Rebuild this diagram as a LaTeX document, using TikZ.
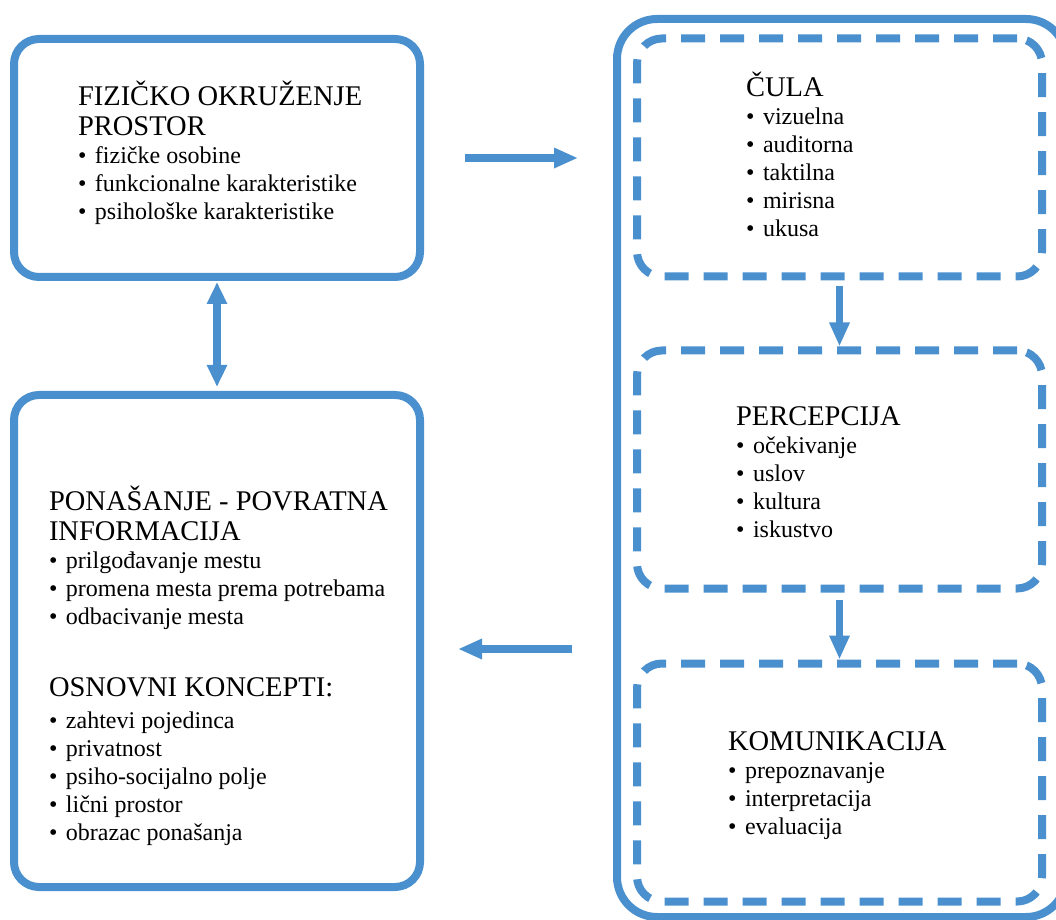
\documentclass[tikz,border=0pt]{standalone}
\usepackage{fontspec}
\setmainfont{Liberation Serif}
\usetikzlibrary{
arrows.meta,
positioning,
}
\definecolor{boxblue}{RGB}{74,144,206}
\tikzset{
outer sep=auto,
every node/.style={align=left},
frame/.style={rectangle, rounded corners=25pt, draw=boxblue, line width=8pt, minimum width=406pt},
dashframe/.style={frame, dash pattern=on 24pt off 15pt, minimum width=405pt, minimum height=238pt},
blocktext/.style={anchor=base west, inner sep=0pt, text width=380pt},
flow/.style={draw=boxblue, line width=7.5pt, -{Triangle[length=24pt, width=19pt]}},
}
\newcommand\headsize{\fontsize{28.5}{30}\selectfont\spaceskip=0.25em plus 0.1em\relax}
\newcommand\listsize{\fontsize{24}{28}\selectfont\spaceskip=0.25em plus 0.1em\relax}
\newcommand\bul{\makebox[17pt][l]{\textbullet}}

\begin{document}
\begin{tikzpicture}
\useasboundingbox (0,0) rectangle (1056pt,919pt);
\clip (0,0) rectangle (1056pt,919pt);
% left column
\node [frame, minimum height=238pt] (fiz) at (217pt,761pt) {};
\node [frame, minimum height=492pt, below=110pt of fiz] (pon) {};
% right column
\node [frame, rounded corners=40pt, minimum width=449pt, minimum height=898pt] (outer) at (841.5pt,451pt) {};
\node [dashframe] (cula) at (839.5pt,761.5pt) {};
\node [dashframe, below=66pt of cula] (perc) {};
\node [dashframe, below=67pt of perc] (kom) {};

\node [blocktext] (fiztext) at (78pt,813pt) {{\headsize FIZIČKO OKRUŽENJE\\PROSTOR\par}
    {\listsize\bul fizičke osobine\\\bul funkcionalne karakteristike\\\bul psihološke karakteristike\par}};
\node [blocktext] (pontext) at (49pt,409pt) {{\headsize PONAŠANJE - POVRATNA\\INFORMACIJA\par}
    {\listsize\bul prilgođavanje mestu\\\bul promena mesta prema potrebama\\\bul odbacivanje mesta\par}
    \vspace{42pt}
    {\headsize OSNOVNI KONCEPTI:\par}
    \vspace{4pt}
    {\listsize\bul zahtevi pojedinca\\\bul privatnost\\\bul psiho-socijalno polje\\\bul lični prostor\\\bul obrazac ponašanja\par}};
\node [blocktext] (culatext) at (746pt,822pt) {{\headsize ČULA\par}
    {\listsize\bul vizuelna\\\bul auditorna\\\bul taktilna\\\bul mirisna\\\bul ukusa\par}};
\node [blocktext] (perctext) at (736pt,493pt) {{\headsize PERCEPCIJA\par}
    {\listsize\bul očekivanje\\\bul uslov\\\bul kultura\\\bul iskustvo\par}};
\node [blocktext] (komtext) at (728pt,169pt) {{\headsize KOMUNIKACIJA\par}
    {\listsize\bul prepoznavanje\\\bul interpretacija\\\bul evaluacija\par}};

% arrows
\draw [flow, shorten <=41pt, shorten >=35pt] (fiz.east) -- (outer.west |- fiz.east);
\draw [flow, shorten <=41pt, shorten >=34pt] (outer.west |- 0,270pt) -- (pon.east |- 0,270pt);
\draw [flow, {Triangle[length=22pt, width=19pt]}-{Triangle[length=22pt, width=19pt]}, shorten <=1pt, shorten >=4pt] (fiz.south) -- (pon.north);
\draw [flow, shorten <=6pt] (cula.south) -- (perc.north);
\draw [flow, shorten <=7pt] (perc.south) -- (kom.north);
\end{tikzpicture}
\end{document}
